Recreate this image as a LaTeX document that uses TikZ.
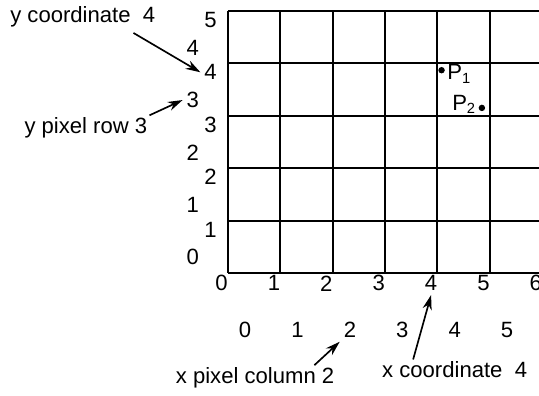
\documentclass[tikz,border=0pt]{standalone}
\usepackage{fontspec}
\setmainfont{Liberation Sans}
\usetikzlibrary{arrows.meta,positioning}

\begin{document}
\begin{tikzpicture}[
  lbl/.style={font=\fontsize{12}{14}\selectfont, inner sep=2pt},
  txt/.style={font=\fontsize{12}{14}\selectfont, inner sep=1pt},
  arr/.style={-{Stealth[length=8pt,width=5pt]}, line width=0.9pt},
  gridln/.style={line width=1.1pt},
  dot/.style={circle, fill, inner sep=0pt, minimum size=3.5pt}
]
  \useasboundingbox (-4.35,-2.35) rectangle (5.94,5.21);
  \draw[gridln] (0,0) grid (6,5);

  % coordinate numbers on the lines
  \foreach \i in {0,...,6}
    \node[lbl] (cx\i) at (\i-0.12,-0.2) {\i};
  \foreach \j in {1,...,5}
    \node[lbl] (cy\j) at (-0.33,\j-0.17) {\j};
  % pixel numbers in the cells
  \foreach \i in {0,...,5}
    \node[lbl] (px\i) at (\i+0.33,-1.09) {\i};
  \foreach \j in {0,...,4}
    \node[lbl] (py\j) at (-0.67,\j+0.3) {\j};

  \node[txt] (ycoord) at (-2.77,4.89) {y coordinate\ \ 4};
  \node[txt] (prow)   at (-2.71,2.77) {y pixel row 3};
  \node[txt] (pcol)   at (0.52,-2.0)  {x pixel column 2};
  \node[txt] (xcoord) at (4.33,-1.85) {x coordinate\ \ 4};

  \draw[arr] ([xshift=-13pt,yshift=-2pt]ycoord.south east) -- (cy4.west);
  \draw[arr] (prow.north east) -- (py3.west);
  \draw[arr] ([xshift=-12pt]pcol.north east) -- (px2.south west);
  \draw[arr] ([xshift=18pt]xcoord.north west) -- (cx4.south);

  \node[dot] (p1) at (4.08,3.87) {};
  \node[txt, right=0pt of p1, yshift=-2pt] (lp1) {P\textsubscript{1}};
  \node[dot] (p2) at (4.85,3.15) {};
  \node[txt, left=0pt of p2, yshift=2pt] (lp2) {P\textsubscript{2}};
\end{tikzpicture}
\end{document}
